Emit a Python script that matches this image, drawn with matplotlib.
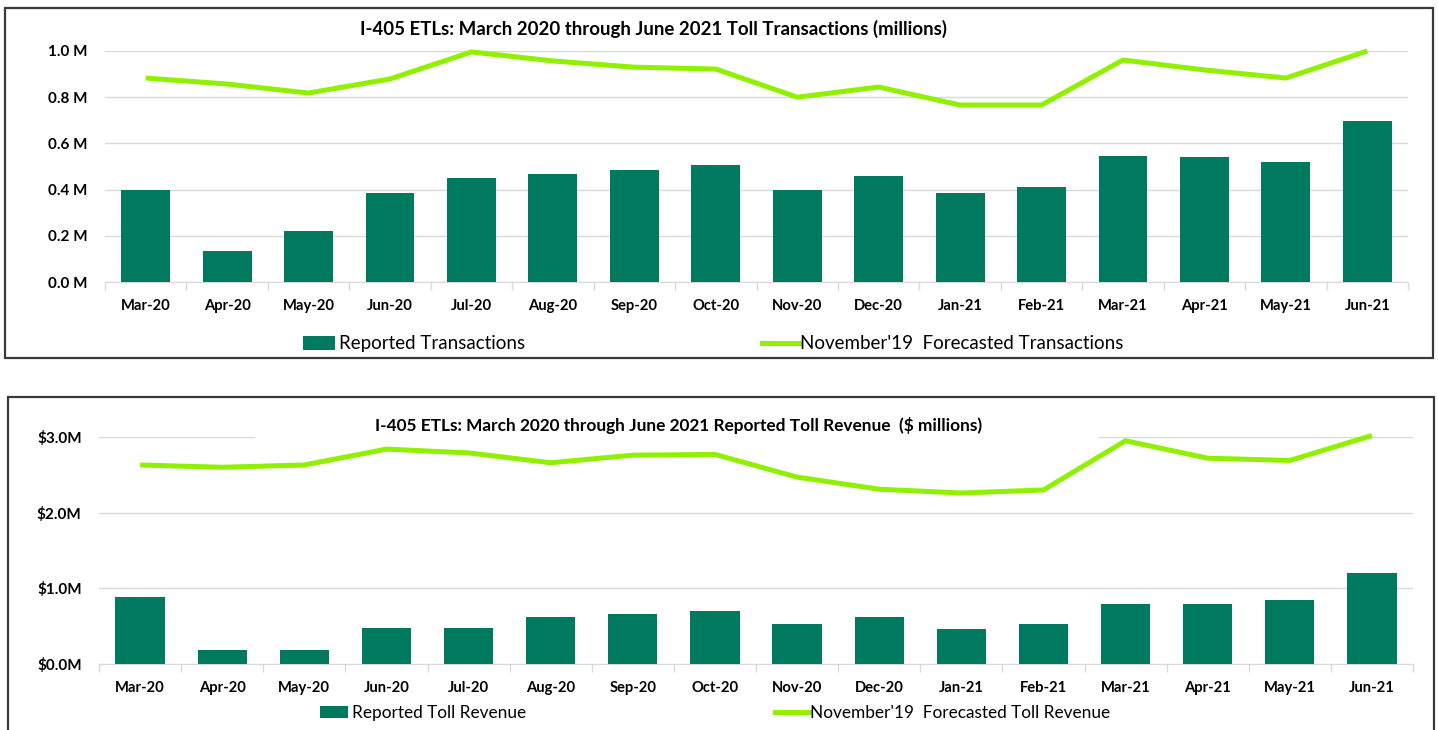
import matplotlib.pyplot as plt
from matplotlib.patches import Rectangle, Patch
from matplotlib.lines import Line2D
import numpy as np

plt.rcParams['font.family'] = ['Lato', 'DejaVu Sans']

months = ["Mar-20", "Apr-20", "May-20", "Jun-20", "Jul-20", "Aug-20", "Sep-20", "Oct-20",
          "Nov-20", "Dec-20", "Jan-21", "Feb-21", "Mar-21", "Apr-21", "May-21", "Jun-21"]

# millions of transactions
txn_reported = [0.40, 0.134, 0.22, 0.385, 0.45, 0.467, 0.485, 0.506,
                0.40, 0.46, 0.385, 0.41, 0.545, 0.54, 0.52, 0.697]
txn_forecast = [0.883, 0.857, 0.818, 0.879, 0.996, 0.957, 0.93, 0.922,
                0.80, 0.844, 0.766, 0.766, 0.961, 0.918, 0.883, 1.0]

# $ millions
rev_reported = [0.88, 0.19, 0.19, 0.48, 0.48, 0.625, 0.665, 0.70,
                0.534, 0.625, 0.46, 0.534, 0.79, 0.79, 0.845, 1.20]
rev_forecast = [2.63, 2.60, 2.63, 2.84, 2.79, 2.66, 2.76, 2.77,
                2.47, 2.31, 2.26, 2.30, 2.95, 2.72, 2.69, 3.02]

BAR = "#007A5E"
LINE = "#8FF000"
GRID = "#D9D9D9"
W, H = 1438, 730

fig = plt.figure(figsize=(W / 100, H / 100), dpi=100)


def px_axes(x0, x1, ytop, ybot):
    return fig.add_axes([x0 / W, (H - ybot) / H, (x1 - x0) / W, (ybot - ytop) / H])


def panel_box(x0, x1, ytop, ybot):
    fig.patches.append(Rectangle((x0 / W, (H - ybot) / H), (x1 - x0) / W, (ybot - ytop) / H,
                                 transform=fig.transFigure, fill=False, ec="#3a3a3a", lw=1.6))


def style(ax, yticks, ylabels, ymax):
    x = np.arange(len(months))
    ax.set_xlim(-0.5, len(months) - 0.5)
    ax.set_ylim(0, ymax)
    ax.set_xticks(x)
    ax.set_xticklabels(months, fontsize=10.6, fontweight="bold")
    ax.set_xticks(np.arange(len(months) + 1) - 0.5, minor=True)
    ax.tick_params(axis="x", which="major", length=0, pad=12)
    ax.tick_params(axis="x", which="minor", length=6, color=GRID, width=1)
    ax.set_yticks(yticks)
    ax.set_yticklabels(ylabels, fontsize=11, fontweight="bold")
    ax.tick_params(axis="y", length=0, pad=12.5)
    ax.grid(axis="y", color=GRID, lw=1)
    ax.set_axisbelow(True)
    for s in ["top", "right", "left"]:
        ax.spines[s].set_visible(False)
    ax.spines["bottom"].set_color(GRID)
    ax.spines["bottom"].set_zorder(0.5)


def legends(ax, bar_label, line_label, bx, lx, yc, fs, bar_len, line_len):
    h1 = Patch(facecolor=BAR, edgecolor="none")
    h2 = Line2D([], [], color=LINE, lw=3.6)
    l1 = ax.legend(handles=[h1], labels=[bar_label], loc="center left",
                   bbox_to_anchor=(bx / W, (H - yc) / H), bbox_transform=fig.transFigure,
                   frameon=False, fontsize=fs, handlelength=bar_len, handleheight=0.75,
                   handletextpad=0.2, borderpad=0, borderaxespad=0)
    ax.add_artist(l1)
    ax.legend(handles=[h2], labels=[line_label], loc="center left",
              bbox_to_anchor=(lx / W, (H - yc) / H), bbox_transform=fig.transFigure,
              frameon=False, fontsize=fs, handlelength=line_len,
              handletextpad=0.0, borderpad=0, borderaxespad=0)


x = np.arange(len(months))

# top panel: transactions
panel_box(5, 1433, 8, 358)
ax1 = px_axes(105, 1408, 51, 282)
ax1.bar(x, txn_reported, width=0.6, color=BAR, zorder=2)
ax1.plot(x, txn_forecast, color=LINE, lw=3.6, zorder=3, clip_on=False, solid_capstyle="butt")
style(ax1, [0, 0.2, 0.4, 0.6, 0.8, 1.0], ["0.0 M", "0.2 M", "0.4 M", "0.6 M", "0.8 M", "1.0 M"], 1.0)
fig.text(653 / W, (H - 29) / H, "I-405 ETLs: March 2020 through June 2021 Toll Transactions (millions)",
         ha="center", va="center", fontsize=13.4, fontweight="bold")
legends(ax1, "Reported Transactions", "November'19  Forecasted Transactions", 303, 762, 344,
        13.5, 1.7, 2.0)

# bottom panel: revenue
panel_box(8, 1434, 397, 740)
ax2 = px_axes(99, 1413, 437, 664)
ax2.bar(x, rev_reported, width=0.6, color=BAR, zorder=2)
ax2.plot(x, rev_forecast, color=LINE, lw=3.6, zorder=3, clip_on=False, solid_capstyle="butt")
style(ax2, [0, 1, 2, 3], ["$0.0M", "$1.0M", "$2.0M", "$3.0M"], 3.0)
# white title box that hides part of the top gridline
ax2.add_patch(Rectangle((1.40, 2.96), 10.28, 0.2, facecolor="white", edgecolor="none",
                        zorder=1, clip_on=False))
fig.text(679 / W, (H - 425) / H, "I-405 ETLs: March 2020 through June 2021 Reported Toll Revenue  ($ millions)",
         ha="center", va="center", fontsize=12.4, fontweight="bold")
legends(ax2, "Reported Toll Revenue", "November'19  Forecasted Toll Revenue", 320, 775, 713,
        12.4, 1.63, 2.03)

fig.savefig("out.png", dpi=100)
